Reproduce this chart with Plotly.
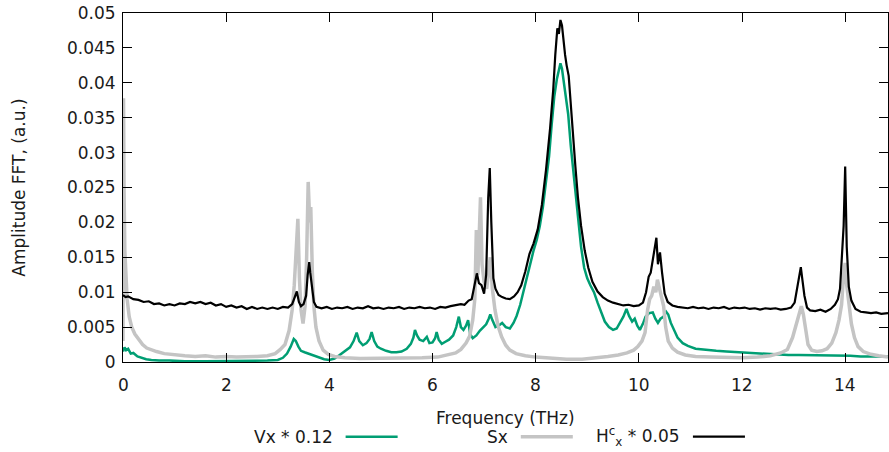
import plotly.graph_objects as go

# ---- data ----
vx_freq = [0.00, 0.03, 0.06, 0.10, 0.15, 0.20, 0.28, 0.35, 0.45, 0.55, 0.70, 0.90, 1.20, 1.60, 2.00, 2.40,
           2.80, 3.00, 3.10, 3.18, 3.25, 3.31, 3.35, 3.40, 3.45, 3.52, 3.60, 3.68, 3.78, 3.90, 4.00, 4.10,
           4.20, 4.30, 4.40, 4.47, 4.53, 4.58, 4.65, 4.72, 4.78, 4.82, 4.87, 4.93, 5.00, 5.10, 5.20, 5.30,
           5.40, 5.50, 5.58, 5.63, 5.66, 5.70, 5.75, 5.82, 5.89, 5.94, 6.00, 6.05, 6.08, 6.12, 6.18, 6.25,
           6.32, 6.40, 6.46, 6.51, 6.55, 6.60, 6.65, 6.69, 6.73, 6.78, 6.85, 6.92, 6.98, 7.04, 7.09, 7.12,
           7.16, 7.22, 7.28, 7.35, 7.42, 7.50, 7.57, 7.63, 7.70, 7.76, 7.82, 7.89, 7.96, 8.02, 8.08, 8.14,
           8.20, 8.26, 8.31, 8.36, 8.41, 8.45, 8.48, 8.51, 8.55, 8.59, 8.63, 8.68, 8.72, 8.77, 8.82, 8.88,
           8.94, 9.00, 9.06, 9.13, 9.20, 9.27, 9.34, 9.42, 9.50, 9.57, 9.63, 9.70, 9.76, 9.81, 9.87, 9.92,
           9.97, 10.02, 10.08, 10.13, 10.20, 10.27, 10.32, 10.37, 10.42, 10.48, 10.53, 10.57, 10.62, 10.68,
           10.75, 10.85, 10.95, 11.10, 11.30, 11.50, 11.70, 11.90, 12.10, 12.30, 12.50, 12.70, 12.90, 13.10,
           13.30, 13.50, 13.70, 13.90, 14.10, 14.30, 14.50, 14.83]
vx_amp = [0.0015, 0.0021, 0.0017, 0.0019, 0.0012, 0.0013, 0.0008, 0.0006, 0.0004, 0.0003, 0.0002, 0.0002,
          0.0001, 0.0001, 0.0001, 0.0001, 0.0002, 0.0003, 0.0006, 0.0012, 0.0022, 0.0033, 0.0030, 0.0022,
          0.0016, 0.0014, 0.0012, 0.0010, 0.0007, 0.0004, 0.0003, 0.0005, 0.0010, 0.0015, 0.0021, 0.0030,
          0.0042, 0.0030, 0.0024, 0.0027, 0.0033, 0.0043, 0.0030, 0.0022, 0.0019, 0.0016, 0.0014, 0.0014,
          0.0015, 0.0019, 0.0026, 0.0035, 0.0046, 0.0038, 0.0032, 0.0030, 0.0036, 0.0027, 0.0028, 0.0034,
          0.0043, 0.0032, 0.0026, 0.0029, 0.0032, 0.0038, 0.0050, 0.0065, 0.0050, 0.0046, 0.0052, 0.0060,
          0.0040, 0.0034, 0.0038, 0.0045, 0.0050, 0.0054, 0.0062, 0.0068, 0.0060, 0.0050, 0.0052, 0.0056,
          0.0050, 0.0048, 0.0056, 0.0066, 0.0082, 0.0100, 0.0120, 0.0142, 0.0160, 0.0175, 0.0195, 0.0222,
          0.0255, 0.0295, 0.0340, 0.0380, 0.0405, 0.0420, 0.0428, 0.0420, 0.0400, 0.0380, 0.0355, 0.0310,
          0.0280, 0.0240, 0.0205, 0.0165, 0.0135, 0.0120, 0.0110, 0.0100, 0.0085, 0.0070, 0.0058, 0.0050,
          0.0046, 0.0048, 0.0055, 0.0065, 0.0076, 0.0066, 0.0058, 0.0062, 0.0052, 0.0046, 0.0055, 0.0065,
          0.0070, 0.0071, 0.0062, 0.0056, 0.0062, 0.0065, 0.0072, 0.0068, 0.0056, 0.0045, 0.0035, 0.0027,
          0.0023, 0.0019, 0.0017, 0.0016, 0.0015, 0.0014, 0.0013, 0.0012, 0.0012, 0.0011, 0.0010, 0.0010,
          0.0010, 0.0009, 0.0009, 0.0009, 0.0009, 0.0008, 0.0008, 0.0008]

sx_freq = [0.000, 0.010, 0.020, 0.035, 0.050, 0.08, 0.12, 0.17, 0.23, 0.30, 0.38, 0.46, 0.55, 0.65, 0.80,
           1.00, 1.20, 1.40, 1.60, 1.80, 2.00, 2.20, 2.40, 2.60, 2.80, 2.95, 3.05, 3.14, 3.22, 3.28, 3.32,
           3.36, 3.39, 3.42, 3.45, 3.49, 3.53, 3.56, 3.59, 3.62, 3.64, 3.67, 3.70, 3.74, 3.80, 3.88, 3.98,
           4.10, 4.30, 4.60, 5.00, 5.40, 5.80, 6.10, 6.30, 6.45, 6.55, 6.65, 6.72, 6.78, 6.82, 6.85, 6.88,
           6.91, 6.93, 6.96, 7.00, 7.05, 7.09, 7.12, 7.16, 7.21, 7.27, 7.34, 7.42, 7.50, 7.62, 7.80, 8.00,
           8.30, 8.60, 8.90, 9.20, 9.40, 9.60, 9.77, 9.90, 9.98, 10.06, 10.12, 10.17, 10.21, 10.25, 10.29,
           10.33, 10.36, 10.40, 10.44, 10.48, 10.52, 10.57, 10.65, 10.75, 10.90, 11.10, 11.40, 11.70, 12.00,
           12.30, 12.55, 12.75, 12.88, 12.98, 13.05, 13.10, 13.15, 13.19, 13.23, 13.28, 13.35, 13.45, 13.55,
           13.65, 13.74, 13.82, 13.88, 13.93, 13.97, 14.00, 14.03, 14.07, 14.12, 14.18, 14.25, 14.35, 14.50,
           14.65, 14.83]
sx_amp = [0.0030, 0.0378, 0.0250, 0.0160, 0.0125, 0.0090, 0.0065, 0.0050, 0.0040, 0.0032, 0.0025, 0.0020,
          0.0017, 0.0015, 0.0012, 0.0010, 0.0009, 0.0008, 0.0009, 0.0007, 0.0008, 0.0007, 0.0007, 0.0008,
          0.0009, 0.0012, 0.0018, 0.0025, 0.0045, 0.0075, 0.0110, 0.0160, 0.0205, 0.0120, 0.0075, 0.0055,
          0.0080, 0.0150, 0.0258, 0.0200, 0.0222, 0.0130, 0.0080, 0.0050, 0.0030, 0.0017, 0.0011, 0.0008,
          0.0006, 0.0005, 0.0005, 0.0005, 0.0006, 0.0007, 0.0010, 0.0013, 0.0018, 0.0027, 0.0037, 0.0060,
          0.0090, 0.0189, 0.0125, 0.0180, 0.0236, 0.0140, 0.0115, 0.0105, 0.0130, 0.0150, 0.0105, 0.0075,
          0.0052, 0.0036, 0.0024, 0.0017, 0.0012, 0.0009, 0.0007, 0.0005, 0.0004, 0.0004, 0.0006, 0.0008,
          0.0010, 0.0013, 0.0017, 0.0022, 0.0030, 0.0042, 0.0075, 0.0090, 0.0095, 0.0108, 0.0100, 0.0118,
          0.0105, 0.0094, 0.0080, 0.0050, 0.0030, 0.0020, 0.0014, 0.0010, 0.0008, 0.0007, 0.0006, 0.0006,
          0.0007, 0.0009, 0.0013, 0.0018, 0.0035, 0.0055, 0.0070, 0.0080, 0.0068, 0.0050, 0.0025, 0.0017,
          0.0015, 0.0016, 0.0019, 0.0027, 0.0042, 0.0060, 0.0082, 0.0125, 0.0142, 0.0110, 0.0080, 0.0055,
          0.0035, 0.0022, 0.0015, 0.0011, 0.0009, 0.0007]

hc_freq = [0.00, 0.05, 0.10, 0.20, 0.30, 0.40, 0.50, 0.60, 0.70, 0.80, 0.90, 1.00, 1.10, 1.20, 1.30, 1.40,
           1.50, 1.60, 1.70, 1.80, 1.90, 2.00, 2.10, 2.20, 2.30, 2.40, 2.50, 2.60, 2.70, 2.80, 2.90, 3.00,
           3.10, 3.20, 3.28, 3.33, 3.37, 3.41, 3.45, 3.50, 3.55, 3.58, 3.61, 3.63, 3.66, 3.70, 3.75, 3.85,
           3.95, 4.05, 4.15, 4.25, 4.35, 4.45, 4.55, 4.65, 4.75, 4.85, 4.95, 5.05, 5.15, 5.25, 5.35, 5.45,
           5.55, 5.65, 5.75, 5.85, 5.95, 6.05, 6.15, 6.25, 6.35, 6.45, 6.55, 6.62, 6.70, 6.76, 6.82, 6.86,
           6.90, 6.95, 7.00, 7.04, 7.08, 7.11, 7.14, 7.18, 7.22, 7.28, 7.35, 7.42, 7.50, 7.58, 7.65, 7.72,
           7.80, 7.88, 7.96, 8.04, 8.12, 8.20, 8.28, 8.34, 8.38, 8.42, 8.45, 8.48, 8.51, 8.54, 8.57, 8.60,
           8.64, 8.68, 8.72, 8.77, 8.82, 8.88, 8.95, 9.02, 9.10, 9.20, 9.30, 9.40, 9.50, 9.60, 9.70, 9.80,
           9.90, 10.00, 10.08, 10.14, 10.19, 10.23, 10.27, 10.31, 10.34, 10.37, 10.41, 10.45, 10.50, 10.56,
           10.65, 10.75, 10.85, 10.95, 11.05, 11.15, 11.25, 11.35, 11.45, 11.55, 11.65, 11.75, 11.85, 11.95,
           12.05, 12.15, 12.25, 12.35, 12.45, 12.55, 12.65, 12.75, 12.85, 12.95, 13.02, 13.07, 13.11, 13.14,
           13.17, 13.21, 13.26, 13.32, 13.42, 13.52, 13.62, 13.72, 13.80, 13.86, 13.90, 13.94, 13.97, 14.00,
           14.03, 14.07, 14.12, 14.20, 14.30, 14.40, 14.50, 14.60, 14.70, 14.83]
hc_amp = [0.0096, 0.0093, 0.0094, 0.0090, 0.0089, 0.0086, 0.0087, 0.0083, 0.0084, 0.0081, 0.0083, 0.0081,
          0.0084, 0.0083, 0.0086, 0.0084, 0.0086, 0.0083, 0.0085, 0.0081, 0.0083, 0.0079, 0.0081, 0.0078,
          0.0080, 0.0076, 0.0079, 0.0076, 0.0078, 0.0076, 0.0078, 0.0076, 0.0079, 0.0078, 0.0083, 0.0093,
          0.0101, 0.0086, 0.0080, 0.0083, 0.0095, 0.0125, 0.0143, 0.0128, 0.0106, 0.0086, 0.0079, 0.0077,
          0.0079, 0.0076, 0.0078, 0.0077, 0.0079, 0.0076, 0.0078, 0.0077, 0.0080, 0.0077, 0.0078, 0.0076,
          0.0078, 0.0077, 0.0079, 0.0076, 0.0078, 0.0077, 0.0079, 0.0077, 0.0078, 0.0076, 0.0079, 0.0078,
          0.0080, 0.0081, 0.0083, 0.0082, 0.0088, 0.0090, 0.0110, 0.0127, 0.0113, 0.0110, 0.0098, 0.0125,
          0.0235, 0.0278, 0.0200, 0.0120, 0.0105, 0.0096, 0.0093, 0.0091, 0.0090, 0.0094, 0.0100, 0.0110,
          0.0130, 0.0155, 0.0170, 0.0190, 0.0225, 0.0275, 0.0335, 0.0390, 0.0440, 0.0478, 0.0470, 0.0490,
          0.0482, 0.0455, 0.0440, 0.0425, 0.0410, 0.0370, 0.0325, 0.0280, 0.0235, 0.0195, 0.0160, 0.0135,
          0.0115, 0.0101, 0.0093, 0.0088, 0.0085, 0.0083, 0.0081, 0.0082, 0.0080, 0.0081, 0.0085, 0.0100,
          0.0122, 0.0128, 0.0146, 0.0168, 0.0178, 0.0140, 0.0157, 0.0128, 0.0098, 0.0086, 0.0081, 0.0079,
          0.0078, 0.0077, 0.0079, 0.0077, 0.0078, 0.0076, 0.0078, 0.0077, 0.0079, 0.0076, 0.0078, 0.0077,
          0.0078, 0.0076, 0.0077, 0.0075, 0.0077, 0.0076, 0.0077, 0.0075, 0.0076, 0.0078, 0.0085, 0.0105,
          0.0125, 0.0136, 0.0118, 0.0095, 0.0078, 0.0074, 0.0073, 0.0075, 0.0072, 0.0076, 0.0082, 0.0090,
          0.0105, 0.0160, 0.0195, 0.0280, 0.0165, 0.0108, 0.0088, 0.0076, 0.0072, 0.0071, 0.0070, 0.0071,
          0.0069, 0.0070]

x_ticks = [0, 2, 4, 6, 8, 10, 12, 14]
x_tick_text = ["0", "2", "4", "6", "8", "10", "12", "14"]
y_ticks = [0, 0.005, 0.01, 0.015, 0.02, 0.025, 0.03, 0.035, 0.04, 0.045, 0.05]
y_tick_text = ["0", "0.005", "0.01", "0.015", "0.02", "0.025", "0.03", "0.035", "0.04", "0.045", "0.05"]

series_names = ["Vx * 0.12", "Sx", "H<sup>c</sup><sub>x</sub> * 0.05"]
series_colors = ["#009e73", "#c4c4c4", "#000000"]
series_widths = [2.5, 3.5, 2.2]

FONT = "DejaVu Sans"
TXT = "#1a1a1a"
fig = go.Figure()
for fx, fy, nm, col, w in zip([vx_freq, sx_freq, hc_freq], [vx_amp, sx_amp, hc_amp],
                              series_names, series_colors, series_widths):
    fig.add_trace(go.Scatter(x=fx, y=fy, mode="lines", name=nm,
                             line=dict(color=col, width=w), showlegend=False))

axis_common = dict(showline=True, linecolor="black", linewidth=1, mirror="allticks",
                   ticks="inside", ticklen=9, tickcolor="black", tickwidth=1,
                   showgrid=False, zeroline=False,
                   tickfont=dict(family=FONT, size=17, color=TXT))
fig.update_xaxes(range=[0, 14.83], tickvals=x_ticks, showticklabels=False, **axis_common)
fig.update_yaxes(range=[0, 0.05], tickvals=y_ticks, ticktext=y_tick_text, ticklabelstandoff=3,
                 **axis_common)

annotations = [
    dict(text="Frequency (THz)", x=0.5, y=-0.16, xref="paper", yref="paper",
         showarrow=False, xanchor="center", yanchor="middle",
         font=dict(family=FONT, size=17, color=TXT)),
    dict(text="Amplitude FFT, (a.u.)", x=-0.137, y=0.5, xref="paper", yref="paper",
         showarrow=False, textangle=-90, xanchor="center", yanchor="middle",
         font=dict(family=FONT, size=17, color=TXT)),
]
# x tick labels placed as in the gnuplot original (a bit further below the axis)
for tv, tt in zip(x_ticks, x_tick_text):
    annotations.append(dict(text=tt, x=tv, y=-0.066, xref="x", yref="paper", showarrow=False,
                            xanchor="center", yanchor="middle",
                            font=dict(family=FONT, size=17, color=TXT)))
shapes = []
# gnuplot-style key below the plot: text right aligned, then sample line
leg_text_right = [0.277, 0.506, 0.731]
leg_y = -0.214
for nm, col, w, xr in zip(series_names, series_colors, series_widths, leg_text_right):
    annotations.append(dict(text=nm, x=xr, y=leg_y, xref="paper", yref="paper", showarrow=False,
                            xanchor="right", yanchor="middle",
                            font=dict(family=FONT, size=17, color=TXT)))
    shapes.append(dict(type="line", xref="paper", yref="paper", x0=xr + 0.014, x1=xr + 0.082,
                       y0=leg_y, y1=leg_y, line=dict(color=col, width=w)))

fig.update_layout(width=889, height=452, margin=dict(l=123, r=1, t=13, b=90),
                  paper_bgcolor="white", plot_bgcolor="white",
                  annotations=annotations, shapes=shapes,
                  font=dict(family=FONT, size=17))
fig.write_html("out.html")
